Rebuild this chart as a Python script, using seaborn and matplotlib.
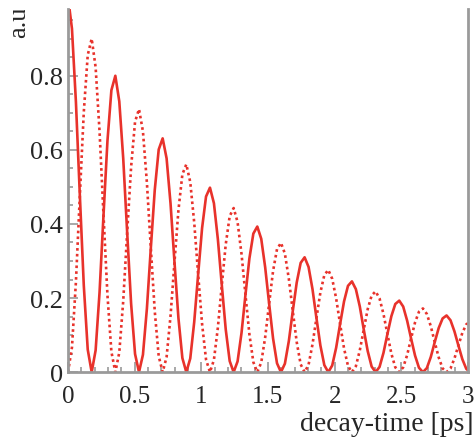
import numpy as np
import pandas as pd
import matplotlib.pyplot as plt
import seaborn as sns
from matplotlib.transforms import Bbox, TransformedBbox

step = 0.02958
solid = [
    1.013, 0.927, 0.730, 0.477, 0.234, 0.061, 0.000, 0.059, 0.216, 0.424, 0.624, 0.761,
    0.800, 0.731, 0.577, 0.377, 0.185, 0.049, 0.000, 0.047, 0.171, 0.335, 0.492, 0.601,
    0.631, 0.577, 0.455, 0.297, 0.146, 0.038, 0.000, 0.037, 0.135, 0.264, 0.389, 0.474,
    0.498, 0.456, 0.359, 0.235, 0.115, 0.030, 0.000, 0.029, 0.106, 0.209, 0.307, 0.374,
    0.393, 0.360, 0.283, 0.185, 0.091, 0.024, 0.000, 0.023, 0.084, 0.165, 0.242, 0.295,
    0.310, 0.284, 0.224, 0.146, 0.072, 0.019, 0.000, 0.018, 0.066, 0.130, 0.191, 0.233,
    0.245, 0.224, 0.177, 0.115, 0.057, 0.015, 0.000, 0.014, 0.052, 0.103, 0.151, 0.184,
    0.193, 0.177, 0.139, 0.091, 0.045, 0.012, 0.000, 0.011, 0.041, 0.081, 0.119, 0.145,
    0.153, 0.140, 0.110, 0.072, 0.035, 0.009, 0.000,
]
dotted = [
    0.000, 0.067, 0.243, 0.477, 0.702, 0.856, 0.900, 0.823, 0.649, 0.424, 0.208, 0.055,
    0.000, 0.053, 0.192, 0.377, 0.554, 0.676, 0.710, 0.650, 0.512, 0.335, 0.164, 0.043,
    0.000, 0.041, 0.152, 0.297, 0.437, 0.534, 0.561, 0.513, 0.404, 0.264, 0.130, 0.034,
    0.000, 0.033, 0.120, 0.235, 0.345, 0.421, 0.443, 0.405, 0.319, 0.209, 0.102, 0.027,
    0.000, 0.026, 0.094, 0.185, 0.273, 0.332, 0.349, 0.320, 0.252, 0.165, 0.081, 0.021,
    0.000, 0.020, 0.075, 0.146, 0.215, 0.262, 0.276, 0.252, 0.199, 0.130, 0.064, 0.017,
    0.000, 0.016, 0.059, 0.115, 0.170, 0.207, 0.218, 0.199, 0.157, 0.103, 0.050, 0.013,
    0.000, 0.013, 0.046, 0.091, 0.134, 0.163, 0.172, 0.157, 0.124, 0.081, 0.040, 0.010,
    0.000, 0.010, 0.037, 0.072, 0.106, 0.129, 0.136,
]
x_ticks = [0, 0.5, 1, 1.5, 2, 2.5, 3]
x_labels = ['0', '0.5', '1', '1.5', '2', '2.5', '3']
y_ticks = [0, 0.2, 0.4, 0.6, 0.8]
y_labels = ['0', '0.2', '0.4', '0.6', '0.8']

t = np.arange(len(solid)) * step
df = pd.DataFrame({'t': t, 'solid': solid, 'dotted': dotted})

sns.set_style('ticks')
plt.rcParams['font.family'] = ['Liberation Serif', 'DejaVu Serif']

red = '#e8322b'
grey = '#9a9a9a'
ink = '#262626'

fig = plt.figure(figsize=(4.77, 4.39), dpi=100)
ax = fig.add_axes([0.1426, 0.150, 0.981 - 0.1426, 0.977 - 0.150])

sns.lineplot(data=df, x='t', y='solid', ax=ax, color=red, lw=1.9)
sns.lineplot(data=df, x='t', y='dotted', ax=ax, color=red, lw=1.9, linestyle=(0, (1, 1.2)))

ax.set_xlim(0, 3)
ax.set_ylim(0, 0.98)
ax.set_xticks(x_ticks)
ax.set_xticklabels(x_labels)
ax.set_yticks(y_ticks)
ax.set_yticklabels(y_labels)
ax.set_xticks(np.arange(0, 3.01, 0.1), minor=True)
ax.set_yticks(np.arange(0, 0.96, 0.05), minor=True)

ax.tick_params(which='both', direction='in', colors=grey, labelcolor=ink, width=1.2)
ax.tick_params(which='major', length=7)
ax.tick_params(which='minor', length=3.5)
ax.tick_params(axis='x', pad=9, labelsize=18)
ax.tick_params(axis='y', pad=3.5, labelsize=19)

for side in ['left', 'bottom', 'right']:
    ax.spines[side].set_color(grey)
    ax.spines[side].set_linewidth(2)
ax.spines['top'].set_visible(False)

ax.set_xlabel('')
ax.set_ylabel('')
fig.text(0.992, 0.004, 'decay-time [ps]', ha='right', va='bottom', fontsize=20, color=ink)
au = fig.text(19 / 477, 1 - 38 / 439, 'a.u.', rotation=90, ha='center', va='bottom',
              fontsize=19, color=ink)
au.set_clip_on(True)
au.set_clip_box(TransformedBbox(Bbox([[0, 0], [1, 1 - 11 / 439]]), fig.transFigure))

fig.savefig('out.png', dpi=100)
